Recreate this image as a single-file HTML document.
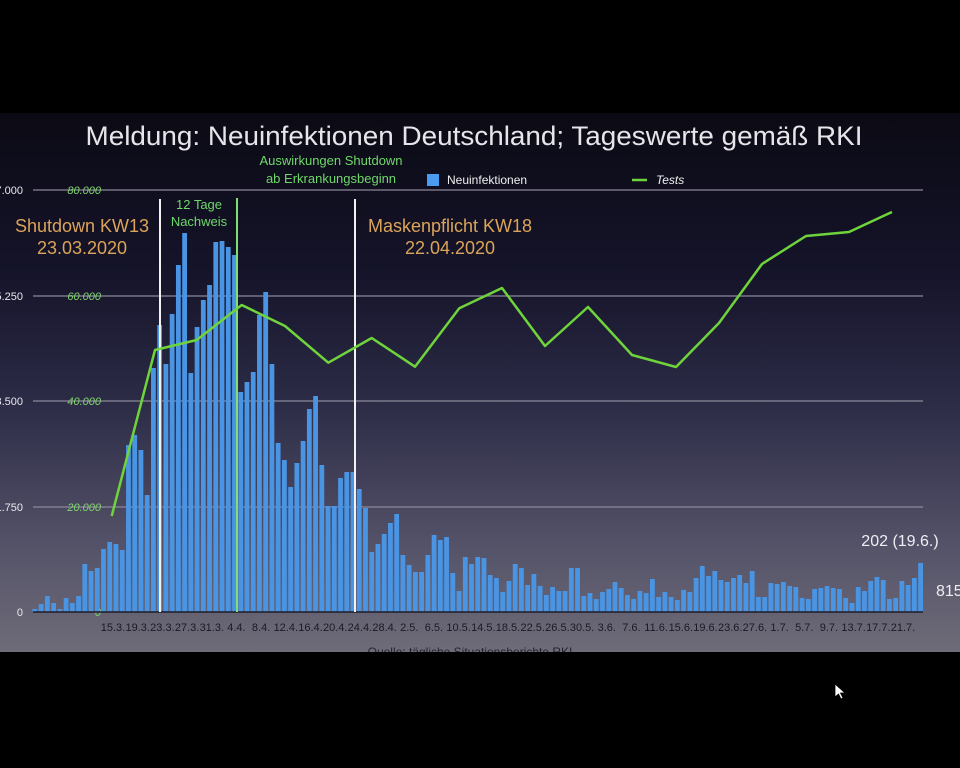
<!DOCTYPE html>
<html><head><meta charset="utf-8"><style>
html,body{margin:0;padding:0;background:#000;width:960px;height:768px;overflow:hidden}
svg{display:block}
text{font-family:"Liberation Sans",sans-serif}
</style></head><body>
<svg id="s" width="960" height="768" viewBox="0 0 960 768" xmlns="http://www.w3.org/2000/svg">
<defs>
<linearGradient id="bg" x1="0" y1="0" x2="0" y2="1">
<stop offset="0" stop-color="#0b0a14"/>
<stop offset="0.3" stop-color="#15142a"/>
<stop offset="0.55" stop-color="#2e2d48"/>
<stop offset="0.8" stop-color="#545268"/>
<stop offset="1" stop-color="#6e6c78"/>
</linearGradient>
</defs>
<rect x="0" y="0" width="960" height="768" fill="#000"/>
<rect x="0" y="113" width="960" height="539" fill="url(#bg)"/>
<text x="474" y="145" text-anchor="middle" font-size="27" fill="#e6e6ea" textLength="777" lengthAdjust="spacingAndGlyphs">Meldung: Neuinfektionen Deutschland; Tageswerte gemäß RKI</text>
<g stroke="#8a8898" stroke-width="1.2">
<line x1="33" y1="190" x2="923" y2="190"/>
<line x1="33" y1="296" x2="923" y2="296"/>
<line x1="33" y1="401" x2="923" y2="401"/>
<line x1="33" y1="507" x2="923" y2="507"/>
</g>
<g font-size="11" fill="#e8e8ee">
<text x="23" y="194" text-anchor="end">7.000</text>
<text x="23" y="300" text-anchor="end">5.250</text>
<text x="23" y="405" text-anchor="end">3.500</text>
<text x="23" y="511" text-anchor="end">1.750</text>
<text x="23" y="616" text-anchor="end">0</text>
</g>
<g font-size="11" fill="#7fd46a" font-style="italic">
<text x="101" y="194" text-anchor="end">80.000</text>
<text x="101" y="300" text-anchor="end">60.000</text>
<text x="101" y="405" text-anchor="end">40.000</text>
<text x="101" y="511" text-anchor="end">20.000</text>
<text x="101" y="616" text-anchor="end">0</text>
</g>
<g id="bars" fill="#4a94e4"></g>
<line x1="33" y1="612" x2="923" y2="612" stroke="#1c1c2a" stroke-width="1.5"/>
<line x1="160" y1="199" x2="160" y2="612" stroke="#f2f2f2" stroke-width="2"/>
<line x1="237" y1="198" x2="237" y2="612" stroke="#7ee070" stroke-width="2"/>
<line x1="355" y1="199" x2="355" y2="612" stroke="#f2f2f2" stroke-width="2"/>
<polyline fill="none" stroke="#6fd43c" stroke-width="2.5" stroke-linejoin="round" points="111.7,516 155,350 196.7,340 241.7,305 285,326 328.3,362.7 371.7,338 415,366.7 459.3,308.3 502,288 545,346 588,307 632,355 676,367 719,323 762,264 806,236 849,232 892,212"/>
<g font-size="13" fill="#6fd86a" text-anchor="middle">
<text x="331" y="165">Auswirkungen Shutdown</text>
<text x="331" y="183">ab Erkrankungsbeginn</text>
<text x="199" y="209">12 Tage</text>
<text x="199" y="226">Nachweis</text>
</g>
<rect x="427" y="174" width="12" height="12" fill="#4a9cf0"/>
<text x="447" y="184" font-size="12" fill="#f0f0f0">Neuinfektionen</text>
<line x1="632" y1="180" x2="647" y2="180" stroke="#6fd43c" stroke-width="2.5"/>
<text x="656" y="184" font-size="12" fill="#f0f0f0" font-style="italic">Tests</text>
<g font-size="18" fill="#dba45a" text-anchor="middle">
<text x="82" y="232">Shutdown KW13</text>
<text x="82" y="254">23.03.2020</text>
<text x="450" y="232">Maskenpflicht KW18</text>
<text x="450" y="254">22.04.2020</text>
</g>
<text x="900" y="546" font-size="16" fill="#eeeef2" text-anchor="middle">202 (19.6.)</text>
<text x="936" y="596" font-size="16" fill="#eeeef2">815</text>
<g id="xl" font-size="11" fill="#1a1a24" text-anchor="middle"></g>
<text x="470" y="656" font-size="12" fill="#222230" text-anchor="middle">Quelle: tägliche Situationsberichte RKI</text>
<rect x="0" y="652" width="960" height="116" fill="#000"/>
<polygon points="835,684 835,697 838.5,694 841,699 843,698 840.5,693 845,693" fill="#fff" stroke="#000" stroke-width="0.8"/>
</svg>
<script>
var t=[609,604,596,603,609,598,603,596,564,571,568,549,542,544,550,445,435,450,495,368,325,364,314,265,233,373,327,300,285,242,241,247,255,
392,382,372,315,292,364,443,460,487,463,441,409,396,465,506,506,478,472,472,489,508,552,544,534,523,514,555,565,572,572,555,
535,540,537,573,591,557,564,557,558,575,578,592,581,564,568,585,574,586,595,587,591,591,568,568,596,593,599,592,589,582,588,595,599,591,593,579,597,592,597,600,
590,592,578,566,576,571,580,582,578,575,583,571,597,597,583,584,582,586,587,598,599,589,588,586,588,589,598,603,587,591,581,577,580,599,598,581,585,578,563];
var NS="http://www.w3.org/2000/svg",g=document.getElementById("bars"),sp=(920.7-35)/(t.length-1);
for(var i=0;i<t.length;i++){var r=document.createElementNS(NS,"rect");var x=35+sp*i;
r.setAttribute("x",(x-2.5).toFixed(2));r.setAttribute("y",t[i]);r.setAttribute("width","4.8");r.setAttribute("height",612-t[i]);g.appendChild(r);}
var L=["15.3.","19.3.","23.3.","27.3.","31.3.","4.4.","8.4.","12.4.","16.4.","20.4.","24.4.","28.4.","2.5.","6.5.","10.5.","14.5.","18.5.","22.5.","26.5.","30.5.","3.6.","7.6.","11.6.","15.6.","19.6.","23.6.","27.6.","1.7.","5.7.","9.7.","13.7.","17.7.","21.7."];
var xl=document.getElementById("xl");
for(var j=0;j<L.length;j++){var e=document.createElementNS(NS,"text");var x=113+j*(903-113)/32;e.setAttribute("x",x.toFixed(1));e.setAttribute("y","631");e.textContent=L[j];xl.appendChild(e);}
</script>
</body></html>
